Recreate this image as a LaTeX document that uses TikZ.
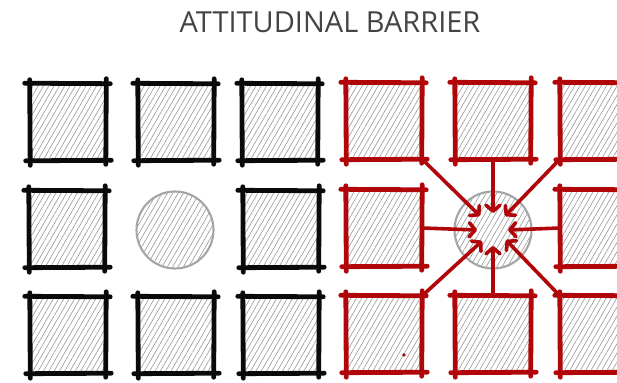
\documentclass[tikz,border=0pt]{standalone}
\usepackage{fontspec}
\setmainfont{Open Sans}
\usetikzlibrary{patterns.meta,arrows.meta}
\definecolor{skred}{RGB}{176,6,10}
\definecolor{skblack}{RGB}{10,10,10}
\definecolor{hatch}{RGB}{150,150,150}
\definecolor{ringgray}{RGB}{165,165,165}
\definecolor{titlegray}{RGB}{68,68,68}
\tikzset{
  cell/.style={rectangle, minimum width=76pt, minimum height=76pt, inner sep=0pt,
    pattern={Lines[angle=60,distance=4.6pt,line width=0.6pt]}, pattern color=hatch},
  hole/.style={circle, minimum size=77pt, inner sep=0pt, draw=ringgray, line width=2.1pt,
    pattern={Lines[angle=60,distance=4.6pt,line width=0.6pt]}, pattern color=hatch},
  stroke/.style={line width=4.8pt, line cap=round},
  pull/.style={skred, line width=3.6pt, line cap=round,
    -{Straight Barb[length=6pt,width=14pt,line cap=round,line join=round]}},
  titletext/.style={text=titlegray, font=\fontsize{29}{34}\selectfont},
}
\newcommand\sketchsides[2]{%
  \draw[stroke,#2] ([shift={(-5pt,0.5pt)}]#1.north west) -- ([shift={(4pt,0pt)}]#1.north east);
  \draw[stroke,#2] ([shift={(-4pt,-0.5pt)}]#1.south west) -- ([shift={(5pt,0pt)}]#1.south east);
  \draw[stroke,#2] ([shift={(0pt,4pt)}]#1.north west) -- ([shift={(0.5pt,-5pt)}]#1.south west);
  \draw[stroke,#2] ([shift={(0pt,5pt)}]#1.north east) -- ([shift={(-0.5pt,-4pt)}]#1.south east);
}
\begin{document}
\begin{tikzpicture}[x=1pt,y=-1pt]
\useasboundingbox (0,0) rectangle (617,382);
\clip (0,0) rectangle (617,382);
\node[titletext] (title) at (330,22) {ATTITUDINAL BARRIER};
% left grid
\node[cell] (l11) at (68,122) {};
\node[cell] (l12) at (176,122) {};
\node[cell] (l13) at (280,122) {};
\node[cell] (l21) at (67,229) {};
\node[hole] (lc) at (175,230) {};
\node[cell] (l23) at (281,229) {};
\node[cell] (l31) at (68,335) {};
\node[cell] (l32) at (176,335) {};
\node[cell] (l33) at (281,335) {};
\foreach \n in {l11,l12,l13,l21,l23,l31,l32,l33}{\sketchsides{\n}{skblack}}
% right grid
\node[cell] (r11) at (384,121) {};
\node[cell] (r12) at (493,121) {};
\node[cell] (r13) at (598,121) {};
\node[cell] (r21) at (384,228) {};
\node[hole] (rc) at (493,230) {};
\node[cell] (r23) at (598,228) {};
\node[cell] (r31) at (384,334) {};
\node[cell] (r32) at (493,334) {};
\node[cell] (r33) at (598,334) {};
\foreach \n in {r11,r12,r13,r21,r23,r31,r32,r33}{\sketchsides{\n}{skred}}
\fill[skred] (404,355) circle (1.8);
% arrows toward the centre
\draw[pull] (r12.south) -- ([shift={(0pt,17pt)}]rc.center);
\draw[pull] (r11.south east) -- ([shift={(-13pt,14pt)}]rc.center);
\draw[pull] (r13.south west) -- ([shift={(12pt,14pt)}]rc.center);
\draw[pull] (r21.east) -- ([shift={(-16pt,0pt)}]rc.center);
\draw[pull] (r23.west) -- ([shift={(15pt,0pt)}]rc.center);
\draw[pull] (r31.north east) -- ([shift={(-11pt,-11pt)}]rc.center);
\draw[pull] (r32.north) -- ([shift={(0pt,-16pt)}]rc.center);
\draw[pull] (r33.north west) -- ([shift={(13pt,-10pt)}]rc.center);
\end{tikzpicture}
\end{document}
